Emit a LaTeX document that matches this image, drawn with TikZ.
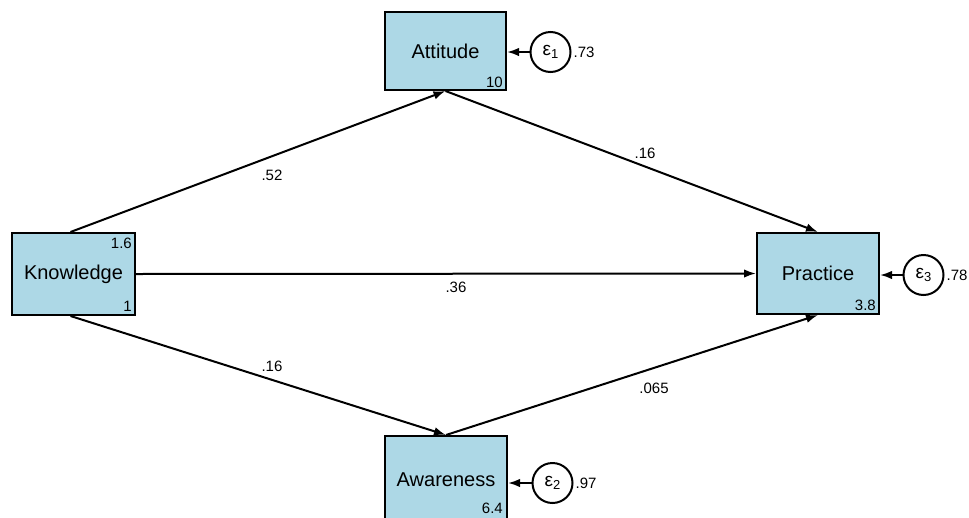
\documentclass[tikz,border=0pt]{standalone}
\usepackage{fontspec}
\setmainfont{Liberation Sans}
\usetikzlibrary{arrows.meta}
\definecolor{boxblue}{HTML}{ADD8E6}
\tikzset{
  var/.style={draw=black, fill=boxblue, line width=2pt, rectangle, inner sep=0pt, font=\fontsize{20}{20}\selectfont},
  err/.style={draw=black, fill=white, line width=2pt, circle, minimum size=40pt, inner sep=0pt, font=\fontsize{19}{19}\selectfont},
  path/.style={line width=2pt, -{Latex[length=12pt,width=8.5pt]}},
  lab/.style={font=\fontsize{15}{15}\selectfont, inner sep=0pt},
  num/.style={font=\fontsize{15}{15}\selectfont, inner sep=0pt}
}
\newcommand{\errlab}[1]{ε\raisebox{-0.3ex}{\fontsize{13}{13}\selectfont #1}}
\begin{document}
\begin{tikzpicture}[x=1pt,y=-1pt]
\useasboundingbox (0,0) rectangle (969,517);
% boxes
\node[var, minimum width=121pt, minimum height=78pt] (att) at (445.5,51) {Attitude};
\node[var, minimum width=123pt, minimum height=82pt] (kno) at (73.5,274) {Knowledge};
\node[var, minimum width=122pt, minimum height=81pt] (pra) at (818,273.5) {Practice};
\node[var, minimum width=122pt, minimum height=88pt, anchor=north] (awa) at (446,435) {Awareness};
% corner numbers
\node[num, anchor=south east] (attn) at ([xshift=-4pt,yshift=3pt]att.south east) {10};
\node[num, anchor=north east] (knot) at ([xshift=-4pt,yshift=-6pt]kno.north east) {1.6};
\node[num, anchor=south east] (knob) at ([xshift=-4pt,yshift=4pt]kno.south east) {1};
\node[num, anchor=south east] (pran) at ([xshift=-4pt,yshift=4pt]pra.south east) {3.8};
\node[num, anchor=south east] (awan) at (503,514) {6.4};
% error terms
\node[err] (e1) at (550.5,52) {\errlab{1}};
\node[err] (e2) at (552.5,483) {\errlab{2}};
\node[err] (e3) at (923.5,275) {\errlab{3}};
\node[num, anchor=west] (e1v) at ([xshift=2pt]e1.east) {.73};
\node[num, anchor=west] (e2v) at ([xshift=2pt]e2.east) {.97};
\node[num, anchor=west] (e3v) at ([xshift=2pt]e3.east) {.78};
\draw[path] (e1) -- (e1 -| att.east);
\draw[path] (e2) -- (e2 -| awa.east);
\draw[path] (e3) -- (e3 -| pra.east);
% structural paths
\draw[path] ([xshift=-3pt]kno.north) -- (att.south);
\draw[path] (att.south) -- (pra.north);
\draw[path] (kno.east) -- (pra.west);
\draw[path] ([xshift=-3pt]kno.south) -- (awa.north);
\draw[path] (awa.north) -- (pra.south);
% path labels
\node[lab] (l1) at (272,175) {.52};
\node[lab] (l2) at (645,153) {.16};
\node[lab] (l3) at (456,287) {.36};
\node[lab] (l4) at (272,366) {.16};
\node[lab] (l5) at (654,388) {.065};
\end{tikzpicture}
\end{document}
